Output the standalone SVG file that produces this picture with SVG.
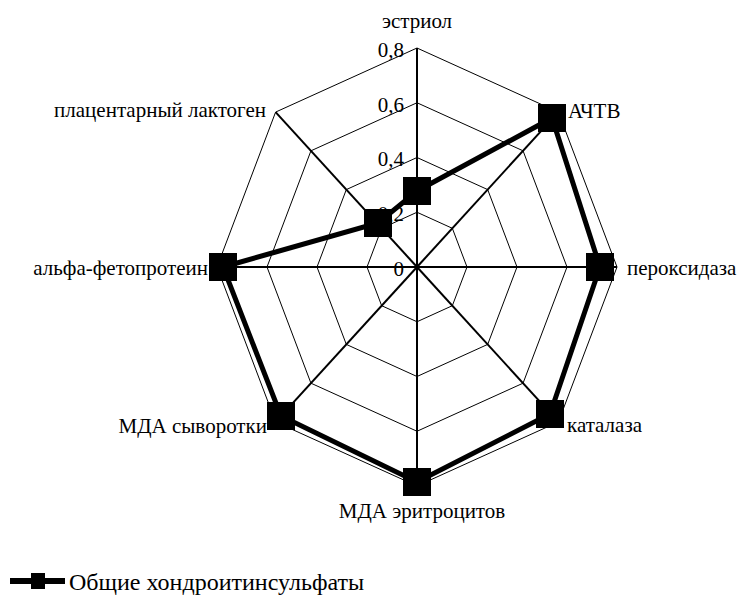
<svg xmlns="http://www.w3.org/2000/svg" width="742" height="597" viewBox="0 0 742 597">
<style>
.t{font-family:'Liberation Serif','Times New Roman',serif;fill:#000;font-size:21px}
.ring{fill:none;stroke:#000;stroke-width:1}
.axis{stroke:#000;stroke-width:2}
.series{fill:none;stroke:#000;stroke-width:5;stroke-linejoin:miter}
.mk{fill:#000}
.val{text-anchor:end}
.leg{font-size:24px}
</style>
<rect width="742" height="597" fill="#fff"/>
<g id="grid">
<polygon class="ring" points="417,212.25 452.35,228.3 467,267 452.35,305.7 417,321.75 381.65,305.7 367,267 381.65,228.3"/>
<polygon class="ring" points="417,157.5 487.7,189.6 517,267 487.7,344.4 417,376.5 346.3,344.4 317,267 346.3,189.6"/>
<polygon class="ring" points="417,102.75 523.05,150.8 567,267 523.05,383.2 417,431.25 310.95,383.2 267,267 310.95,150.8"/>
<polygon class="ring" points="417,48 558.4,112.1 617,267 558.4,421.9 417,486 275.6,421.9 217,267 275.6,112.1"/>
</g>
<g id="connectors">
<line class="axis" x1="417" y1="267" x2="417" y2="48"/>
<line class="axis" x1="417" y1="267" x2="558.4" y2="112.1"/>
<line class="axis" x1="417" y1="267" x2="617" y2="267"/>
<line class="axis" x1="417" y1="267" x2="558.4" y2="421.9"/>
<line class="axis" x1="417" y1="267" x2="417" y2="486"/>
<line class="axis" x1="417" y1="267" x2="275.6" y2="421.9"/>
<line class="axis" x1="417" y1="267" x2="217" y2="267"/>
<line class="axis" x1="417" y1="267" x2="275.6" y2="112.1"/>
</g>
<g id="scale">
<text class="t val" x="404" y="57">0,8</text>
<text class="t val" x="404" y="112">0,6</text>
<text class="t val" x="404" y="166">0,4</text>
<text class="t val" x="404" y="221">0,2</text>
<text class="t val" x="404" y="276">0</text>
</g>
<g id="series">
<polygon class="series" points="417,191 552,118 600,267 550,414 417,482 281,416 223,267 378,223"/>
</g>
<g id="markers">
<rect class="mk" x="403" y="177" width="28" height="28"/>
<rect class="mk" x="538" y="104" width="28" height="28"/>
<rect class="mk" x="586" y="253" width="28" height="28"/>
<rect class="mk" x="536" y="400" width="28" height="28"/>
<rect class="mk" x="403" y="468" width="28" height="28"/>
<rect class="mk" x="267" y="402" width="28" height="28"/>
<rect class="mk" x="209" y="253" width="28" height="28"/>
<rect class="mk" x="364" y="209" width="28" height="28"/>
</g>
<g id="labels">
<g id="n-estriol"><text class="t" x="417" y="28" text-anchor="middle">эстриол</text></g>
<g id="n-achtv"><text class="t" x="568" y="118">АЧТВ</text></g>
<g id="n-perox"><text class="t" x="627" y="275">пероксидаза</text></g>
<g id="n-katal"><text class="t" x="567" y="432">каталаза</text></g>
<g id="n-mdaer"><text class="t" x="422" y="518" text-anchor="middle">МДА эритроцитов</text></g>
<g id="n-mdasyv"><text class="t" x="267" y="433" text-anchor="end">МДА сыворотки</text></g>
<g id="n-afp"><text class="t" x="208" y="275" text-anchor="end">альфа-фетопротеин</text></g>
<g id="n-plac"><text class="t" x="266" y="117" text-anchor="end">плацентарный лактоген</text></g>
</g>
<g id="legend">
<line x1="10" y1="581" x2="65" y2="581" stroke="#000" stroke-width="6"/>
<rect x="31" y="573" width="14" height="16" fill="#000"/>
<text class="t leg" x="69" y="590">Общие хондроитинсульфаты</text>
</g>
</svg>
